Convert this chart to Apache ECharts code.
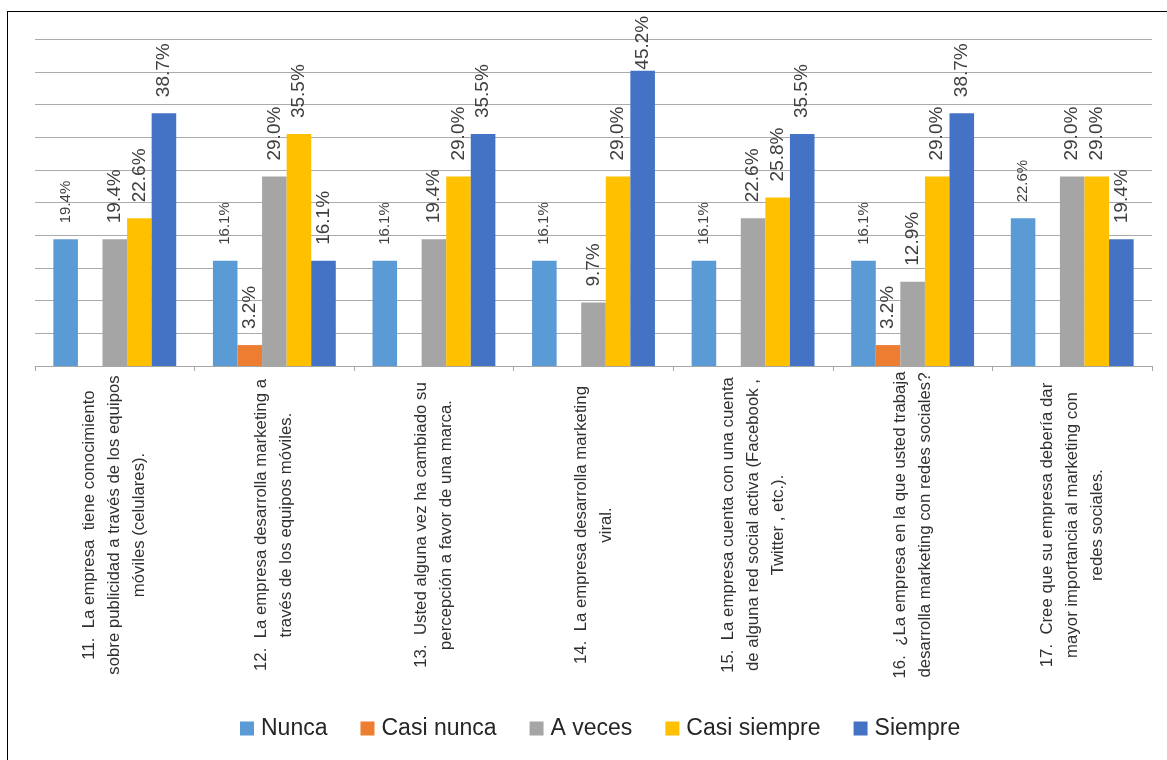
<!DOCTYPE html>
<html>
<head>
<meta charset="utf-8">
<script src="https://cdn.jsdelivr.net/npm/echarts@6/dist/echarts.min.js"></script>
<style>
  html, body { margin: 0; padding: 0; background: #fff; }
  #frame {
    position: absolute; left: 7px; top: 11px; width: 1160px; height: 749px;
    border-left: 1.5px solid #000; border-top: 1.5px solid #000;
  }
  #chart { position: absolute; left: 0; top: 0; width: 1167px; height: 760px; }
</style>
</head>
<body>
<div id="frame"></div>
<div id="chart"></div>
<script>
// Survey items (x-axis categories), wrapped as they appear under each group
const categories = [
  '11.  La empresa  tiene conocimiento\nsobre publicidad a través de los equipos\nmóviles (celulares).',
  '12.  La empresa desarrolla marketing a\ntravés de los equipos móviles.',
  '13.  Usted alguna vez ha cambiado su\npercepción a favor de una marca.',
  '14.  La empresa desarrolla marketing\nviral.',
  '15.  La empresa cuenta con una cuenta\nde alguna red social activa (Facebook ,\nTwitter , etc.).',
  '16.  ¿La empresa en la que usted trabaja\ndesarrolla marketing con redes sociales?',
  '17.  Cree que su empresa debería dar\nmayor importancia al marketing con\nredes sociales.'
];

// Answer frequencies in percent (null = no responses)
const nunca        = [19.4, 16.1, 16.1, 16.1, 16.1, 16.1, 22.6];
const casiNunca    = [null, 3.2, null, null, null, 3.2, null];
const aVeces       = [19.4, 29.0, 19.4, 9.7, 22.6, 12.9, 29.0];
const casiSiempre  = [22.6, 35.5, 29.0, 29.0, 25.8, 29.0, 29.0];
const siempre      = [38.7, 16.1, 35.5, 45.2, 35.5, 38.7, 19.4];

const seriesNames = ['Nunca', 'Casi nunca', 'A veces', 'Casi siempre', 'Siempre'];
const seriesData = [nunca, casiNunca, aVeces, casiSiempre, siempre];
const seriesColors = ['#5B9BD5', '#ED7D31', '#A5A5A5', '#FFC000', '#4472C4'];

const FONT = '"Liberation Sans", Arial, sans-serif';
const Y_MAX = 50;

const chart = echarts.init(document.getElementById('chart'), null, { renderer: 'canvas' });

const series = seriesNames.map((name, i) => ({
  name: name,
  type: 'bar',
  // tall bars get their label pulled close so it stays inside the frame
  data: seriesData[i].map(v => (v != null && v > Y_MAX - 8)
    ? { value: v, label: { distance: 1 } }
    : v),
  barGap: '0%',
  barCategoryGap: '23%',
  itemStyle: { color: seriesColors[i] },
  label: {
    show: true,
    position: 'top',
    rotate: 90,
    align: 'left',
    verticalAlign: 'middle',
    distance: 16,
    fontFamily: FONT,
    fontSize: i === 0 ? 15 : 19,
    color: '#404040',
    formatter: p => (p.value == null ? '' : Number(p.value).toFixed(1) + '%')
  }
}));

chart.setOption({
  animation: false,
  color: seriesColors,
  grid: { left: 35, right: 15, top: 39.3, bottom: 394, containLabel: false },
  legend: {
    data: seriesNames,
    left: 235,
    top: 712,
    icon: 'rect',
    itemWidth: 14,
    itemHeight: 14,
    itemGap: 33,
    textStyle: { fontFamily: FONT, fontSize: 23, color: '#262626', padding: [0, 0, 0, 2] }
  },
  xAxis: {
    type: 'category',
    data: categories,
    axisLine: { show: true, lineStyle: { color: '#a6a6a6', width: 1.2 } },
    axisTick: { show: true, length: 5, alignWithLabel: false, lineStyle: { color: '#a6a6a6' } },
    axisLabel: {
      rotate: 90,
      interval: 0,
      align: 'center',
      verticalAlign: 'middle',
      margin: 159,
      fontFamily: FONT,
      fontSize: 16.8,
      lineHeight: 25,
      color: '#303030'
    }
  },
  yAxis: {
    type: 'value',
    min: 0,
    max: Y_MAX,
    interval: 5,
    axisLine: { show: false },
    axisTick: { show: false },
    axisLabel: { show: false },
    splitLine: { show: true, lineStyle: { color: '#ababab', width: 1.2 } }
  },
  series: series
});
</script>
</body>
</html>
